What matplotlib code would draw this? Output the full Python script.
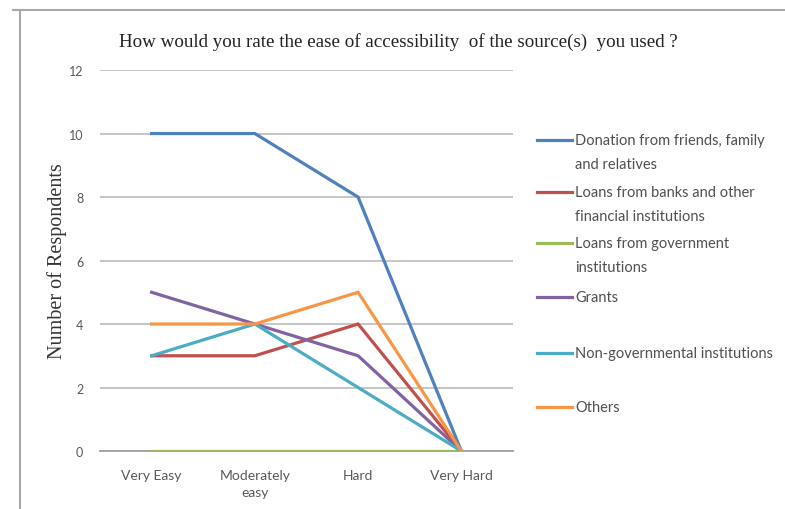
import matplotlib
matplotlib.use("Agg")
import matplotlib.pyplot as plt
from matplotlib.lines import Line2D

categories = ["Very Easy", "Moderately\neasy", "Hard", "Very Hard"]
donation = [10, 10, 8, 0]
bank_loans = [3, 3, 4, 0]
gov_loans = [0, 0, 0, 0]
grants = [5, 4, 3, 0]
ngo = [3, 4, 2, 0]
others = [4, 4, 5, 0]

labels = ["Donation from friends, family\nand relatives",
          "Loans from banks and other\nfinancial institutions",
          "Loans from government\ninstitutions",
          "Grants",
          "Non-governmental institutions",
          "Others"]
colors = ["#4F81BD", "#C0504D", "#9BBB59", "#8064A2", "#4BACC6", "#F79646"]
series = [donation, bank_loans, gov_loans, grants, ngo, others]

fig = plt.figure(figsize=(7.85, 5.1), dpi=100)
ax = fig.add_axes([0.1274, 0.1137, 0.526, 0.747])

x = range(len(categories))
for vals, c in zip(series, colors):
    ax.plot(x, vals, color=c, lw=2.3, solid_joinstyle="miter", zorder=3)

ax.set_xlim(-0.5, len(categories) - 0.5)
ax.set_ylim(0, 12)
ax.set_yticks(range(0, 13, 2))
ax.set_yticklabels([str(v) for v in range(0, 13, 2)], fontfamily="Lato", fontsize=9, color="#595959")
ax.set_xticks(list(x))
ax.set_xticklabels(categories, fontfamily="Lato", fontsize=10, color="#595959", linespacing=1.5)
ax.tick_params(axis="y", length=0, pad=12)
ax.tick_params(axis="x", length=0, pad=13)
ax.yaxis.grid(True, color="#C0C0C0", lw=1.3)
ax.set_axisbelow(True)
for s in ["left", "right", "top"]:
    ax.spines[s].set_visible(False)
ax.spines["bottom"].set_color("#A0A0A0")
ax.spines["bottom"].set_linewidth(1.3)

ax.set_ylabel("Number of Respondents", fontfamily="Liberation Serif", fontsize=14.5, color="#333333", labelpad=1)
fig.text(0.507, 0.917, "How would you rate the ease of accessibility  of the source(s)  you used ?",
         ha="center", va="center", fontfamily="Liberation Serif", fontsize=13.7, color="#222222")

# legend drawn beside the plot
ys = [141, 193, 244, 298, 354, 408]
for y, lab, c in zip(ys, labels, colors):
    fy = 1 - y / 510
    fig.add_artist(Line2D([537 / 785, 572 / 785], [fy, fy], color=c, lw=2.3))
    fig.text(575 / 785, fy + 0.013, lab, ha="left", va="top", fontfamily="Lato",
             fontsize=10.5, color="#505050", linespacing=1.9)

# frame around the chart
fig.add_artist(Line2D([13 / 785, 1], [1 - 11 / 510, 1 - 11 / 510], color="#A8A8A8", lw=1.5))
fig.add_artist(Line2D([20 / 785, 20 / 785], [0, 1 - 11 / 510], color="#A8A8A8", lw=1.5))

fig.savefig("out.png", dpi=100)
